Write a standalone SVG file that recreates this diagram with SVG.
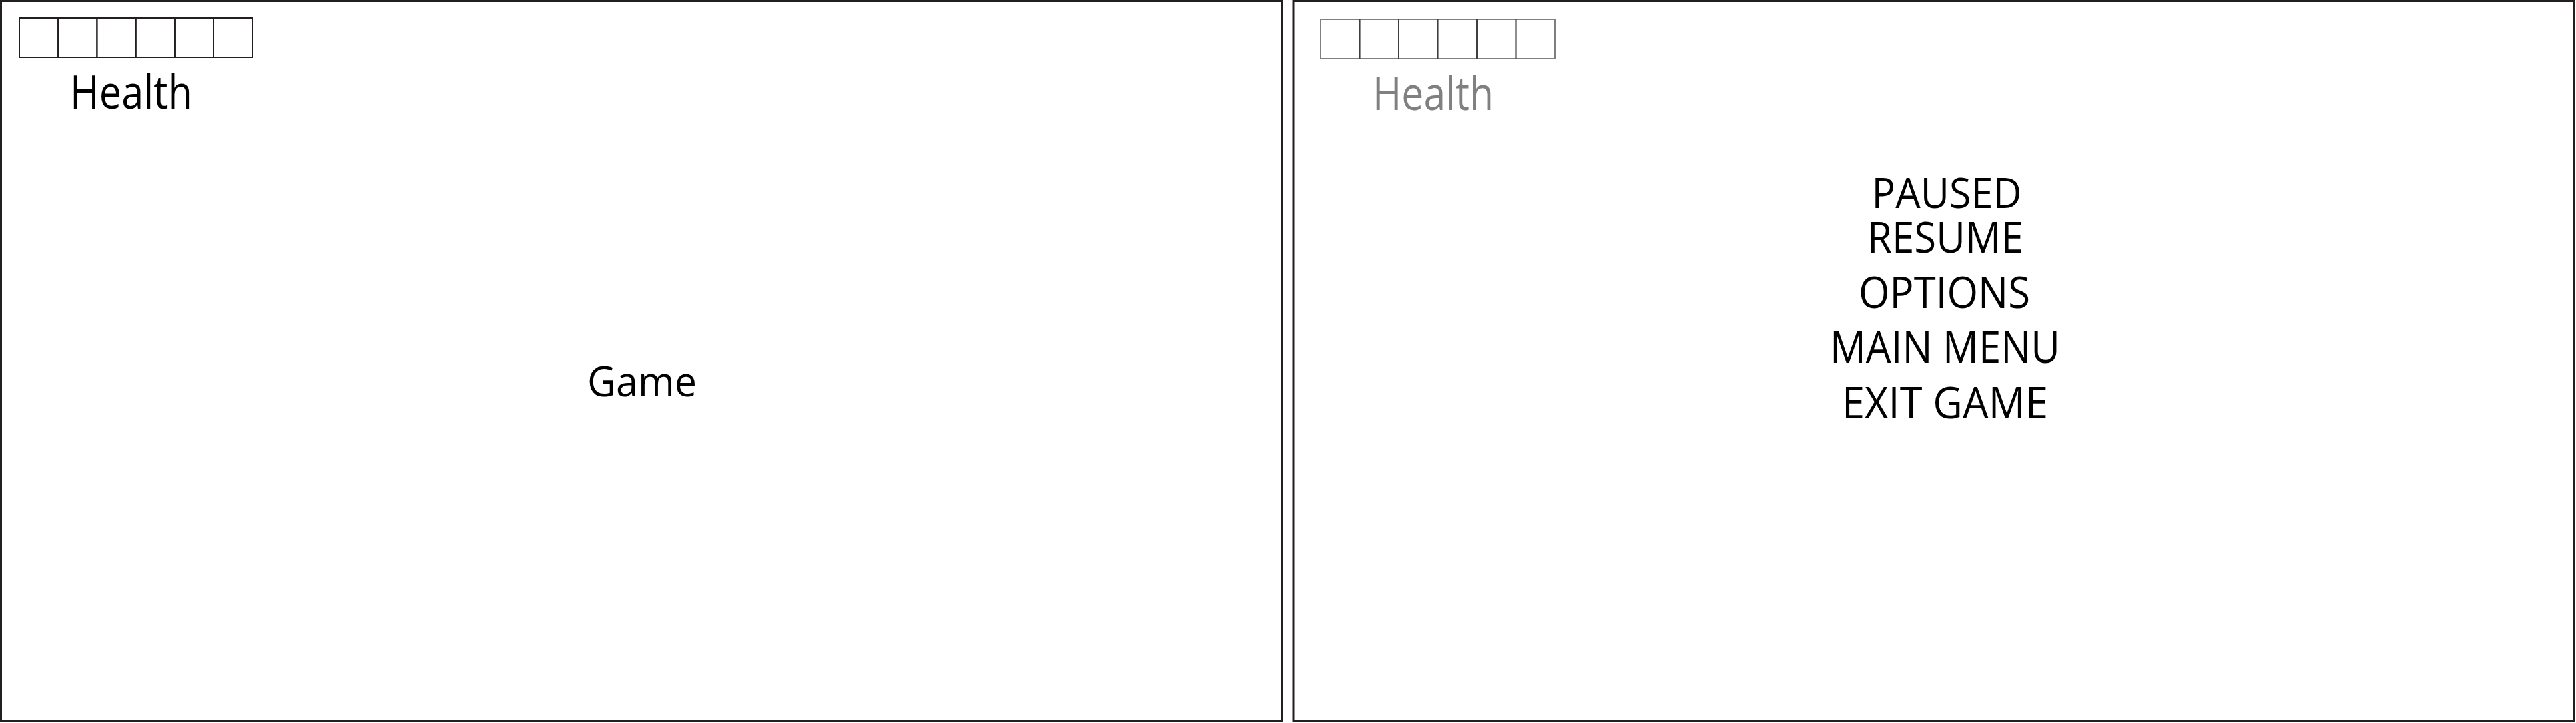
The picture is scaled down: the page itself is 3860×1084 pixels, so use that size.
<svg xmlns="http://www.w3.org/2000/svg" width="3860" height="1084" viewBox="0 0 3860 1084">
<style>
.panel{fill:#fff;stroke:#231f20;stroke-width:3}
.box{fill:none;stroke:#231f20;stroke-width:2}
.gbox{fill:none;stroke:#000;stroke-opacity:0.5;stroke-width:2}
text{font-family:"Open Sans","Noto Sans",sans-serif;fill:#000;text-anchor:middle}
.g{fill:#808080}
</style>
<rect width="3860" height="1084" fill="#fff"/>
<g id="game-screen">
<rect class="panel" x="1.5" y="1.5" width="1919.5" height="1079.5"/>
<g id="health-bar">
<rect class="box" x="29" y="27" width="58.2" height="59"/>
<rect class="box" x="87.2" y="27" width="58.2" height="59"/>
<rect class="box" x="145.4" y="27" width="58.2" height="59"/>
<rect class="box" x="203.6" y="27" width="58.2" height="59"/>
<rect class="box" x="261.8" y="27" width="58.2" height="59"/>
<rect class="box" x="320" y="27" width="58" height="59"/>
</g>
<text id="health-label" x="196.5" y="163" font-size="70" textLength="183" lengthAdjust="spacingAndGlyphs">Health</text>
<text id="game-label" x="962" y="594" font-size="62" textLength="164" lengthAdjust="spacingAndGlyphs">Game</text>
</g>
<g id="pause-screen">
<rect class="panel" x="1938" y="1.5" width="1919.5" height="1079.5"/>
<g id="health-bar-dim">
<rect class="gbox" x="1979" y="29" width="58.5" height="59"/>
<rect class="gbox" x="2037.5" y="29" width="58.5" height="59"/>
<rect class="gbox" x="2096" y="29" width="58.5" height="59"/>
<rect class="gbox" x="2154.5" y="29" width="58.5" height="59"/>
<rect class="gbox" x="2213" y="29" width="58.5" height="59"/>
<rect class="gbox" x="2271.5" y="29" width="58.5" height="59"/>
</g>
<text id="health-label-dim" class="g" x="2147.5" y="165" font-size="70" textLength="181" lengthAdjust="spacingAndGlyphs">Health</text>
<g id="pause-menu">
<text x="2917" y="312" font-size="63" textLength="225" lengthAdjust="spacingAndGlyphs">PAUSED</text>
<text x="2915" y="379" font-size="64" textLength="234" lengthAdjust="spacingAndGlyphs">RESUME</text>
<text x="2913.5" y="462" font-size="65" textLength="257" lengthAdjust="spacingAndGlyphs">OPTIONS</text>
<text x="2914.5" y="544" font-size="65" textLength="345" lengthAdjust="spacingAndGlyphs">MAIN MENU</text>
<text x="2914.5" y="627" font-size="65" textLength="309" lengthAdjust="spacingAndGlyphs">EXIT GAME</text>
</g>
</g>
<g id="connectors"/>
</svg>
